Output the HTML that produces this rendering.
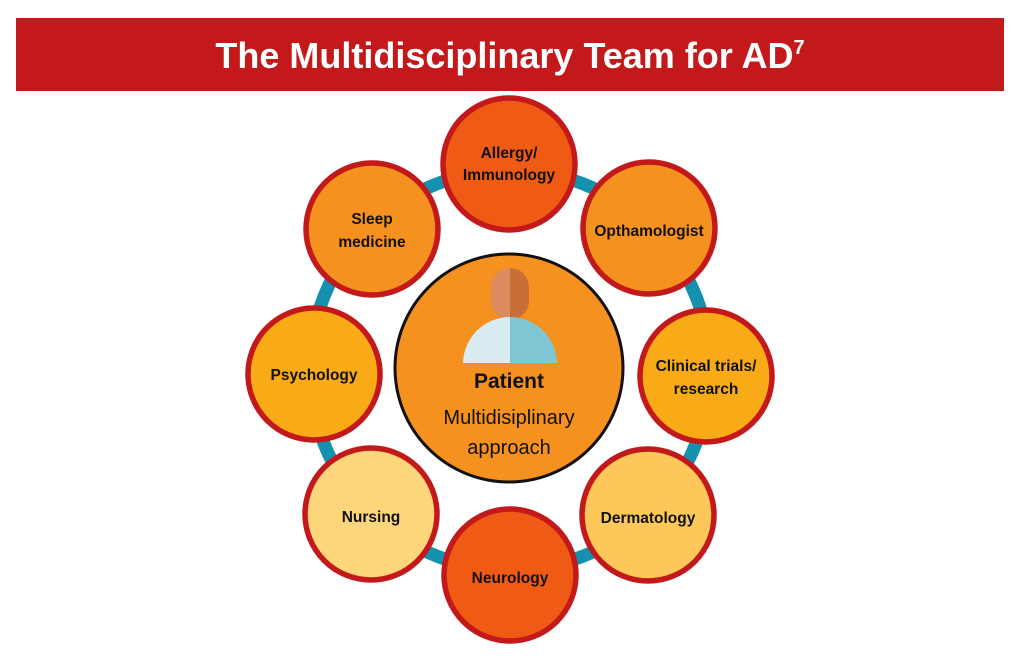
<!DOCTYPE html>
<html><head><meta charset="utf-8"><style>
body{margin:0;width:1020px;height:658px;background:#fff;overflow:hidden}
svg{display:block}
text{font-family:"Liberation Sans",sans-serif}
</style></head><body>
<svg width="1020" height="658" viewBox="0 0 1020 658">
<rect x="16" y="18" width="988" height="73" fill="#c3191b"/>
<text x="510" y="68" text-anchor="middle" font-size="36" font-weight="bold" fill="#fff">The Multidisciplinary Team for AD<tspan font-size="20" dy="-14">7</tspan></text>
<circle cx="510" cy="370" r="200" fill="none" stroke="#1591b0" stroke-width="13"/>
<g stroke="#c3191b" stroke-width="5.5">
<circle cx="509" cy="164" r="66" fill="#ef5a14"/>
<circle cx="649" cy="228" r="66" fill="#f5911e"/>
<circle cx="706" cy="376" r="66" fill="#f9ab17"/>
<circle cx="648" cy="515" r="66" fill="#fdc75a"/>
<circle cx="510" cy="575" r="66" fill="#ef5a14"/>
<circle cx="371" cy="514" r="66" fill="#fdd57a"/>
<circle cx="314" cy="374" r="66" fill="#f9ab17"/>
<circle cx="372" cy="229" r="66" fill="#f5911e"/>
</g>
<circle cx="509" cy="368" r="114" fill="#f5911e" stroke="#111" stroke-width="3"/>
<rect x="491" y="268" width="38" height="52" rx="19" fill="#dc8a5e"/>
<path d="M510 268 a19 19 0 0 1 19 19 v14 a19 19 0 0 1 -19 19z" fill="#c96e37"/>
<path d="M463 363 a47 47 0 0 1 47 -46 v46z" fill="#d9ecf2"/>
<path d="M510 317 a47 47 0 0 1 47 46 h-47z" fill="#80c7d6"/>
<g font-size="15.5" font-weight="bold" text-anchor="middle" fill="#111">
<text x="509" y="158">Allergy/</text><text x="509" y="180">Immunology</text>
<text x="649" y="236">Opthamologist</text>
<text x="706" y="371">Clinical trials/</text><text x="706" y="394">research</text>
<text x="648" y="523">Dermatology</text>
<text x="510" y="583">Neurology</text>
<text x="371" y="522">Nursing</text>
<text x="314" y="380">Psychology</text>
<text x="372" y="224">Sleep</text><text x="372" y="247">medicine</text>
</g>
<text x="509" y="388" text-anchor="middle" font-size="21" font-weight="bold" fill="#111">Patient</text>
<text x="509" y="424" text-anchor="middle" font-size="20" fill="#111">Multidisiplinary</text>
<text x="509" y="454" text-anchor="middle" font-size="20" fill="#111">approach</text>
</svg>
</body></html>
